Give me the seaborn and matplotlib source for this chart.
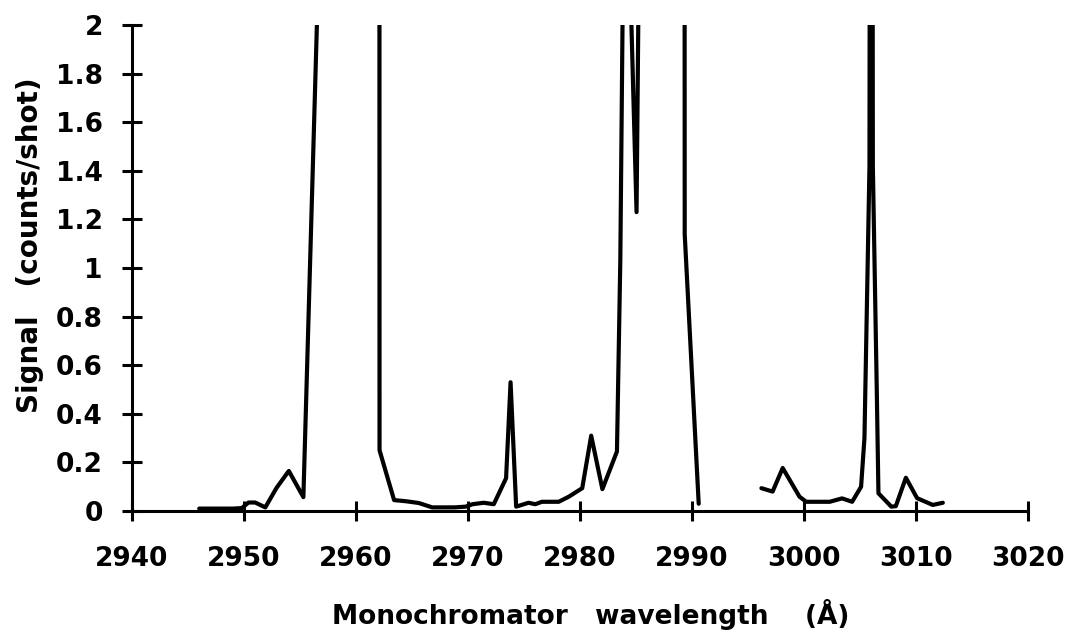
import numpy as np
import pandas as pd
import matplotlib
matplotlib.use("Agg")
import matplotlib.pyplot as plt
import seaborn as sns

# ---- data ----
wl_a = [2946.0, 2947.0, 2948.0, 2949.0, 2949.8, 2950.4, 2951.0, 2951.9, 2952.9, 2954.0,
        2955.3, 2956.6, 2957.6, 2958.6, 2959.6, 2960.6, 2961.6, 2962.05, 2962.1, 2963.4,
        2964.5, 2965.6, 2966.8, 2967.8, 2968.8, 2969.8, 2970.4, 2971.4, 2972.3, 2973.4,
        2973.8, 2974.3, 2975.4, 2976.0, 2976.6, 2977.4, 2978.1, 2979.0, 2980.2, 2981.0,
        2982.0, 2983.3, 2983.6, 2984.0, 2985.05, 2985.5, 2986.5, 2987.5, 2988.5, 2989.2,
        2989.35, 2990.6]
sig_a = [0.01, 0.01, 0.01, 0.01, 0.012, 0.035, 0.035, 0.015, 0.095, 0.165,
         0.057, 2.15, 8.0, 14.0, 18.0, 20.0, 18.0, 12.0, 0.25, 0.045,
         0.04, 0.033, 0.015, 0.015, 0.015, 0.018, 0.028, 0.034, 0.028, 0.135,
         0.53, 0.018, 0.034, 0.028, 0.038, 0.038, 0.038, 0.059, 0.094, 0.31,
         0.09, 0.245, 1.03, 3.0, 1.23, 3.5, 10.0, 15.0, 18.0, 20.0,
         1.14, 0.03]

wl_b = [2996.2, 2997.2, 2998.1, 2999.6, 3000.2, 3001.2, 3002.3, 3003.4, 3004.3, 3005.1,
        3005.4, 3005.85, 3006.0, 3006.15, 3006.5, 3006.65, 3007.8, 3008.2, 3009.1, 3010.1,
        3011.5, 3012.4]
sig_b = [0.094, 0.08, 0.177, 0.059, 0.038, 0.038, 0.038, 0.052, 0.038, 0.10,
         0.30, 1.42, 8.0, 1.42, 0.5, 0.073, 0.018, 0.02, 0.137, 0.053,
         0.025, 0.034]

x_ticks = [2940, 2950, 2960, 2970, 2980, 2990, 3000, 3010, 3020]
x_tick_labels = ["2940", "2950", "2960", "2970", "2980", "2990", "3000", "3010", "3020"]
y_ticks = [0, 0.2, 0.4, 0.6, 0.8, 1.0, 1.2, 1.4, 1.6, 1.8, 2.0]
y_tick_labels = ["0", "0.2", "0.4", "0.6", "0.8", "1", "1.2", "1.4", "1.6", "1.8", "2"]

x_label = "Monochromator   wavelength    (Å)"
y_label = "Signal   (counts/shot)"

# ---- style ----
sns.set_theme(style="white")
plt.rcParams["font.family"] = ["DejaVu Sans"]
plt.rcParams["font.weight"] = "bold"

fig = plt.figure(figsize=(10.7, 6.33), dpi=100)
ax = fig.add_axes([0.1234, 0.1927, 0.8373, 0.7678])

df_a = pd.DataFrame({"wl": wl_a, "sig": sig_a})
df_b = pd.DataFrame({"wl": wl_b, "sig": sig_b})
for df in (df_a, df_b):
    sns.lineplot(data=df, x="wl", y="sig", ax=ax, sort=False, estimator=None,
                 color="black", linewidth=3.0, solid_joinstyle="round",
                 solid_capstyle="round")

ax.set_xlim(2940, 3020)
ax.set_ylim(0, 2)
ax.set_xticks(x_ticks)
ax.set_xticklabels(x_tick_labels)
ax.set_yticks(y_ticks)
ax.set_yticklabels(y_tick_labels)

for s in ("top", "right"):
    ax.spines[s].set_visible(False)
for s in ("left", "bottom"):
    ax.spines[s].set_color("black")
    ax.spines[s].set_linewidth(2.2)

ax.tick_params(axis="both", direction="inout", length=14, width=2.2, color="black",
               labelsize=19, labelcolor="black", bottom=True, left=True)
ax.tick_params(axis="x", pad=18)
ax.tick_params(axis="y", pad=14)
for lab in ax.get_xticklabels() + ax.get_yticklabels():
    lab.set_fontweight("bold")

ax.set_xlabel(x_label, fontsize=19, fontweight="bold", color="black")
ax.set_ylabel(y_label, fontsize=20, fontweight="bold", color="black")
ax.xaxis.set_label_coords(0.512, -0.212)
ax.yaxis.set_label_coords(-0.114, 0.547)
ax.xaxis.label.set_va("center")
ax.yaxis.label.set_va("center")
ax.grid(False)

fig.savefig("out.png", dpi=100, facecolor="white")
